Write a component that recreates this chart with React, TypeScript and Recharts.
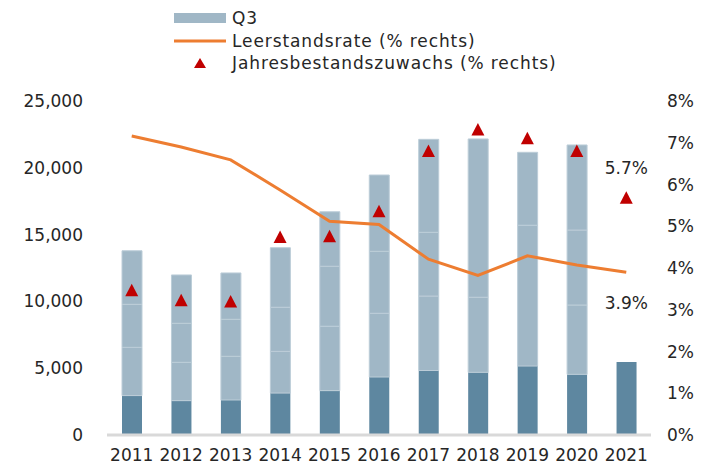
import React from 'react';
import {
  ComposedChart,
  Bar,
  Line,
  Scatter,
  XAxis,
  YAxis,
} from 'recharts';

// Completions per quarter (stacked)
const years = ['2011', '2012', '2013', '2014', '2015', '2016', '2017', '2018', '2019', '2020', '2021'];
const q1 = [2950, 2570, 2620, 3140, 3320, 4340, 4830, 4690, 5160, 4540, 5460];
const q2 = [3610, 2870, 3270, 3120, 4820, 4770, 5570, 5620, 10540, 5190, 0];
const q3 = [3220, 2920, 2770, 3300, 4490, 4640, 4770, 11850, 0, 5610, 0];
const q4 = [4010, 3620, 3470, 4460, 4080, 5710, 6960, 0, 5460, 6370, 0];
// Right axis (%)
const vacancyRate = [7.16, 6.9, 6.59, 5.87, 5.12, 5.04, 4.21, 3.82, 4.29, 4.07, 3.9];
const stockGrowth = [3.47, 3.23, 3.2, 4.74, 4.76, 5.36, 6.8, 7.32, 7.11, 6.8, 5.68];

const leftTicks = [0, 5000, 10000, 15000, 20000, 25000];
const rightTicks = [0, 1, 2, 3, 4, 5, 6, 7, 8];

const FONT = '"DejaVu Sans", sans-serif';
const TEXT = '#262626';
const DARK = '#5e87a0';
const LIGHT = '#a0b7c6';
const SEP = '#bccdd8';
const ORANGE = '#ed7d31';
const RED = '#c00000';

const data = years.map((year, i) => ({
  year,
  q1: q1[i],
  q2: q2[i],
  q3: q3[i],
  q4: q4[i],
  rate: vacancyRate[i],
  growth: stockGrowth[i],
}));

const lastYear = years[years.length - 1];

// triangle marker, plus the value label over the latest year
const Triangle = (props: any) => {
  const { cx, cy, payload } = props;
  if (cx == null || cy == null) return null;
  return (
    <g>
      <polygon points={`${cx},${cy - 6.5} ${cx + 6.5},${cy + 6} ${cx - 6.5},${cy + 6}`} fill={RED} />
      {payload && payload.year === lastYear && (
        <text x={cx} y={cy - 30} textAnchor="middle" dominantBaseline="central"
          fontFamily={FONT} fontSize={17} fill={TEXT}>
          {`${Number(payload.growth).toFixed(1)}%`}
        </text>
      )}
    </g>
  );
};

const RateLabel = (props: any) => {
  const { x, y, value, index } = props;
  if (index !== years.length - 1) return null;
  return (
    <text x={x} y={y + 31} textAnchor="middle" dominantBaseline="central"
      fontFamily={FONT} fontSize={17} fill={TEXT}>
      {`${Number(value).toFixed(1)}%`}
    </text>
  );
};

const LegendBox = () => {
  const row: React.CSSProperties = { display: 'flex', alignItems: 'center', height: 22.5 };
  const label: React.CSSProperties = {
    marginLeft: 6, fontFamily: FONT, fontSize: 17, color: TEXT, whiteSpace: 'nowrap', letterSpacing: 0.9,
  };
  return (
    <div style={{ position: 'absolute', left: 174, top: 7 }}>
      <div style={row}>
        <svg width={52} height={12}><rect x={0} y={1} width={52} height={10} fill={LIGHT} /></svg>
        <span style={label}>Q3</span>
      </div>
      <div style={row}>
        <svg width={52} height={12}><line x1={0} x2={52} y1={6} y2={6} stroke={ORANGE} strokeWidth={3} /></svg>
        <span style={label}>Leerstandsrate (% rechts)</span>
      </div>
      <div style={row}>
        <svg width={52} height={12}><polygon points="26,1 32,11 20,11" fill={RED} /></svg>
        <span style={label}>Jahresbestandszuwachs (% rechts)</span>
      </div>
    </div>
  );
};

export default function App() {
  return (
    <div style={{ position: 'absolute', left: 0, top: 0, width: 713, height: 471, background: '#fff' }}>
      <ComposedChart width={713} height={471} data={data}
        margin={{ top: 101, right: 0, bottom: 0, left: 0 }}>
        <XAxis dataKey="year" axisLine={{ stroke: '#d9d9d9', strokeWidth: 3 }} tickLine={false}
          tickSize={0} tickMargin={14} height={36}
          tick={{ fill: TEXT, fontFamily: FONT, fontSize: 17 }} />
        <YAxis yAxisId="left" domain={[0, 25000]} ticks={leftTicks} width={107}
          axisLine={false} tickLine={false} tickSize={0} tickMargin={24}
          tickFormatter={(v: number) => v.toLocaleString('en-US')}
          tick={{ fill: TEXT, fontFamily: FONT, fontSize: 17 }} />
        <YAxis yAxisId="right" orientation="right" domain={[0, 8]} ticks={rightTicks} width={62}
          axisLine={false} tickLine={false} tickSize={0} tickMargin={16}
          tickFormatter={(v: number) => `${v}%`}
          tick={{ fill: TEXT, fontFamily: FONT, fontSize: 17, textAnchor: 'start' }} />
        <Bar yAxisId="left" dataKey="q1" stackId="a" fill={DARK} barSize={20} isAnimationActive={false} />
        <Bar yAxisId="left" dataKey="q2" stackId="a" fill={LIGHT} stroke={SEP} strokeWidth={1} barSize={20} isAnimationActive={false} />
        <Bar yAxisId="left" dataKey="q3" stackId="a" fill={LIGHT} stroke={SEP} strokeWidth={1} barSize={20} isAnimationActive={false} />
        <Bar yAxisId="left" dataKey="q4" stackId="a" fill={LIGHT} stroke={SEP} strokeWidth={1} barSize={20} isAnimationActive={false} />
        <Line yAxisId="right" dataKey="rate" stroke={ORANGE} strokeWidth={3} dot={false}
          isAnimationActive={false} label={RateLabel} />
        <Scatter yAxisId="right" dataKey="growth" shape={<Triangle />} isAnimationActive={false} />
      </ComposedChart>
      <LegendBox />
    </div>
  );
}
